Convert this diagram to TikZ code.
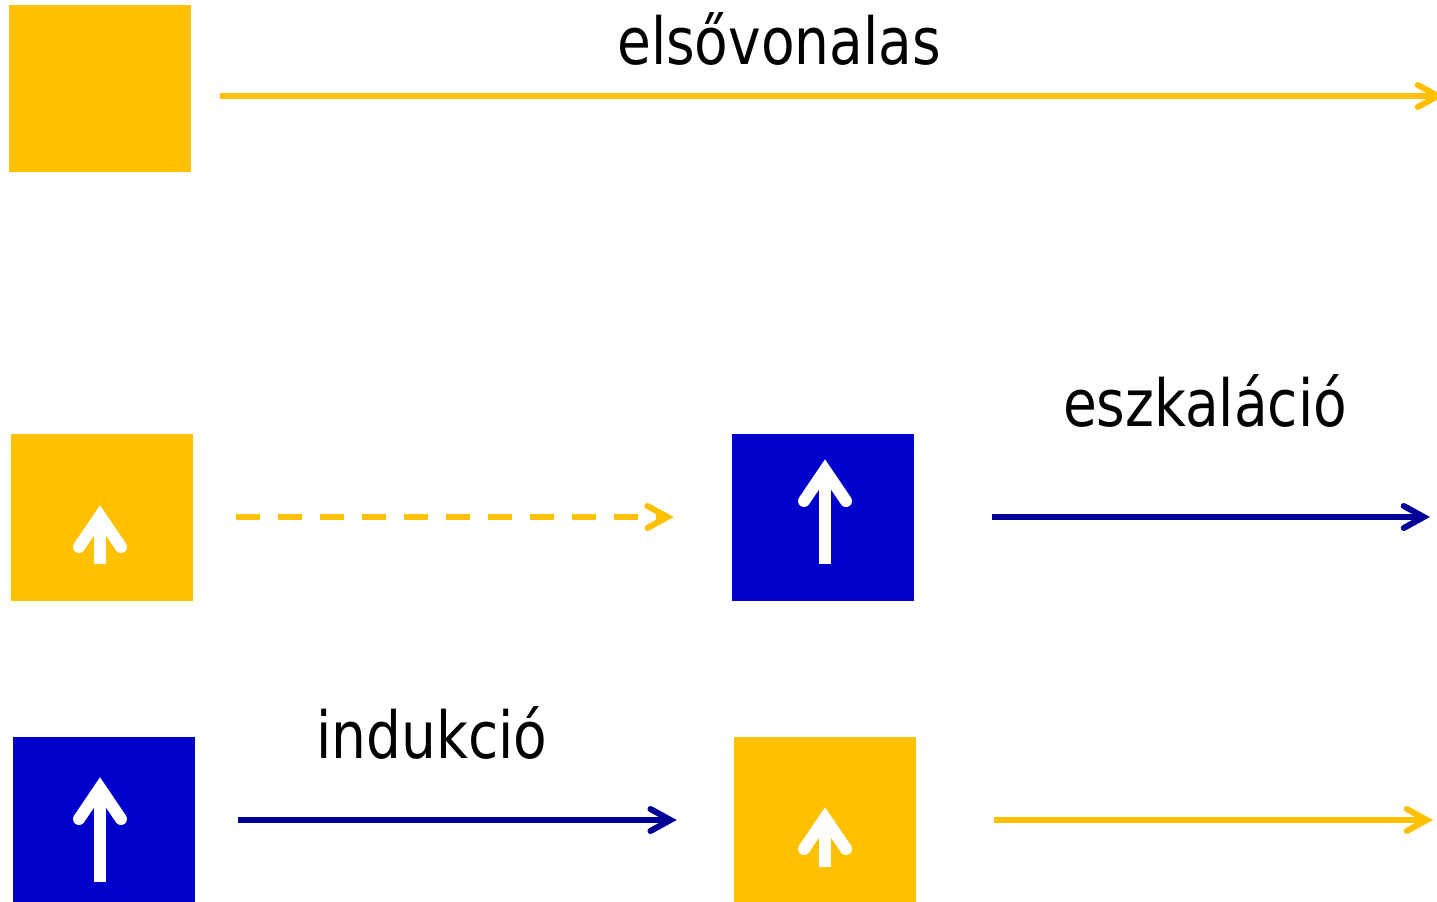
\documentclass[tikz,border=0pt]{standalone}
\usepackage{fontspec}
\setmainfont[FakeStretch=0.94]{DejaVu Sans Condensed}
\usepackage{xcolor}
\usetikzlibrary{arrows.meta}
\usetikzlibrary{calc}

\definecolor{sarga}{HTML}{FFC000}
\definecolor{kek}{HTML}{0000CC}
\definecolor{sotetkek}{HTML}{000099}

% white up arrow inside a box: x, tip y, bottom y (pixels)
\newcommand{\felnyil}[3]{%
  \draw[white, line width=0.24cm] (#1, #2+11) -- (#1, #3);
  \draw[white, line width=0.24cm, line cap=round, line join=miter]
    (#1-21, #2+42) -- (#1, #2+11) -- (#1+21, #2+42);
}

\begin{document}
\begin{tikzpicture}[x=0.02cm, y=-0.02cm,
    doboz/.style={minimum width=3.64cm, minimum height=3.34cm, inner sep=0pt},
    nyil/.style={line width=0.12cm, -{Straight Barb[length=0.4cm, width=0.44cm, line cap=round, line join=miter]}},
    felirat/.style={anchor=base, font=\fontsize{37}{44}\selectfont}]
            \useasboundingbox (0,0) rectangle (1437,902);
            \node[doboz, fill=sarga] (s1) at (100,88.5) {};
            \node[doboz, fill=sarga] (s2) at (102,517.5) {};
            \node[doboz, fill=kek] (k2) at (823,517.5) {};
            \node[doboz, fill=kek] (k3) at (104,820.5) {};
            \node[doboz, fill=sarga] (s3) at (825,820.5) {};
            \felnyil{100}{505}{564}
            \felnyil{825}{459}{564}
            \felnyil{100}{777}{882}
            \felnyil{825}{807}{867}
            \coordinate (v1) at (1444,96);
            \coordinate (v2) at (1430,517);
            \coordinate (v3) at (1433,820);
            \draw[nyil, sarga, shorten <=0.58cm] (s1.east |- v1) -- (v1);
            \draw[nyil, sarga, dash pattern=on 0.48cm off 0.36cm, shorten <=0.86cm, shorten >=1.16cm] (s2.east |- v2) -- (k2.west |- v2);
            \draw[nyil, sotetkek, shorten <=1.56cm] (k2.east |- v2) -- (v2);
            \draw[nyil, sotetkek, shorten <=0.86cm, shorten >=1.14cm] (k3.east |- v3) -- (s3.west |- v3);
            \draw[nyil, sarga, shorten <=1.56cm] (s3.east |- v3) -- (v3);
            \node[felirat] (elso) at (779,65) {elsővonalas};
            \node[felirat] (eszk) at (1205,426) {eszkaláció};
            \node[felirat] (indu) at (432,758) {indukció};
        \end{tikzpicture}
\end{document}
